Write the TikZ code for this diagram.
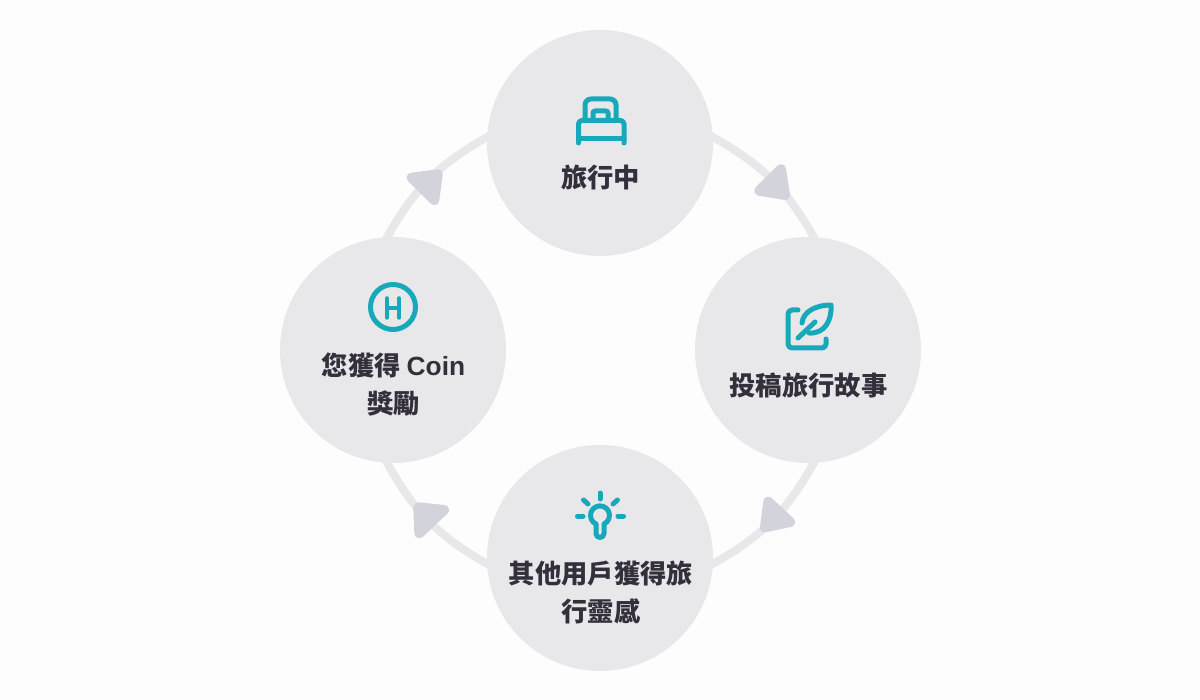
\documentclass[tikz,border=0pt]{standalone}
\usepackage{fontspec}
\setmainfont{Noto Sans CJK TC}
\newfontfamily\coinfont{Liberation Sans}
\definecolor{pagebg}{HTML}{FDFDFE}
\definecolor{discgray}{HTML}{E8E8EB}
\definecolor{tipgray}{HTML}{D3D3DB}
\definecolor{labelink}{HTML}{33303C}
\definecolor{iconteal}{HTML}{17A9BA}
\tikzset{
	disc/.style={circle,fill=discgray,minimum size=226pt,inner sep=0pt,outer sep=0pt},
	label/.style={text=labelink,font=\fontsize{26.3}{38}\selectfont\bfseries,align=center,inner sep=0pt},
	ringline/.style={draw=discgray,line width=8pt,bend left=16,shorten <=-3pt,shorten >=-3pt},
	tiptri/.style={draw=tipgray,fill=tipgray,line width=10pt,line join=round},
	icon/.style={draw=iconteal,line width=5pt,line cap=round,line join=round}
}
\begin{document}
\begin{tikzpicture}[x=1pt,y=-1pt]
	\fill[pagebg] (0,0) rectangle (1200,700);
	\useasboundingbox (0,0) rectangle (1200,700);
	\node[disc] (travel) at (600,143) {};
	\node[disc] (post) at (808,350) {};
	\node[disc] (inspire) at (600,558) {};
	\node[disc] (reward) at (393,350) {};
	% ring pieces
	\draw[ringline] (travel.3) to (post.87);
	\draw[ringline] (post.-87) to (inspire.-3);
	\draw[ringline] (inspire.183) to (reward.-93);
	\draw[ringline] (reward.93) to (travel.177);
	% arrow tips
	\filldraw[tiptri] (781,169.3)--(785,195)--(759.3,190.7)--cycle;
	\filldraw[tiptri] (768.3,501.7)--(790,522)--(765,527.3)--cycle;
	\filldraw[tiptri] (418.3,507.3)--(444,510)--(419.3,533.3)--cycle;
	\filldraw[tiptri] (411.7,177.7)--(437.7,174.3)--(434.3,200)--cycle;
	% labels
	\node[label] (travellabel) at (600.5,177) {旅行中};
	\node[label] (postlabel) at (808.5,385) {投稿旅行故事};
	\node[label] (inspirelabel) at (601,593) {其他用戶獲得旅\\行靈感};
	\node[label] (rewardlabel) at (393.5,385) {您獲得 {\coinfont Coin}\\獎勵};
	% bed
	\draw[icon] (585,118)--(585,105) arc[start angle=180,end angle=270,radius=6] --(610,99) arc[start angle=270,end angle=360,radius=6] --(616,118);
	\draw[icon] (593,118)--(593,113) arc[start angle=180,end angle=270,radius=2] --(606,111) arc[start angle=270,end angle=360,radius=2] --(608,118);
	\draw[icon] (578.5,143)--(578.5,124) arc[start angle=180,end angle=270,radius=3.5] --(620.5,120.5) arc[start angle=270,end angle=360,radius=3.5] --(624,143);
	\draw[icon] (578.5,139)--(624,139);
	% leaf
	\draw[icon] (798,310)--(792,310) arc[start angle=270,end angle=180,radius=4] --(788,344) arc[start angle=180,end angle=90,radius=4] --(822,348) arc[start angle=90,end angle=0,radius=4] --(826,339);
	\draw[icon] (802,323) .. controls (803,311) and (817,305) .. (831,305) .. controls (832,320) and (825,334) .. (809,333);
	\draw[icon] (798,338)--(815,322);
	% bulb
	\draw[icon] (596,524)--(596,533.5) arc[start angle=180,end angle=0,radius=4] --(604,524) arc[start angle=65,end angle=-245,radius=9.5] -- cycle;
	\draw[icon] (600,493)--(600,499);
	\draw[icon] (583.5,500)--(588,504);
	\draw[icon] (617.5,500)--(613,504);
	\draw[icon] (577.5,516)--(583,516);
	\draw[icon] (618,516)--(623.5,516);
	% coin
	\draw[icon] (393,307) circle (22.5);
	\draw[icon,line width=3.5pt] (387,298)--(387,318) (399,298)--(399,318) (387,308)--(399,308);
\end{tikzpicture}
\end{document}
